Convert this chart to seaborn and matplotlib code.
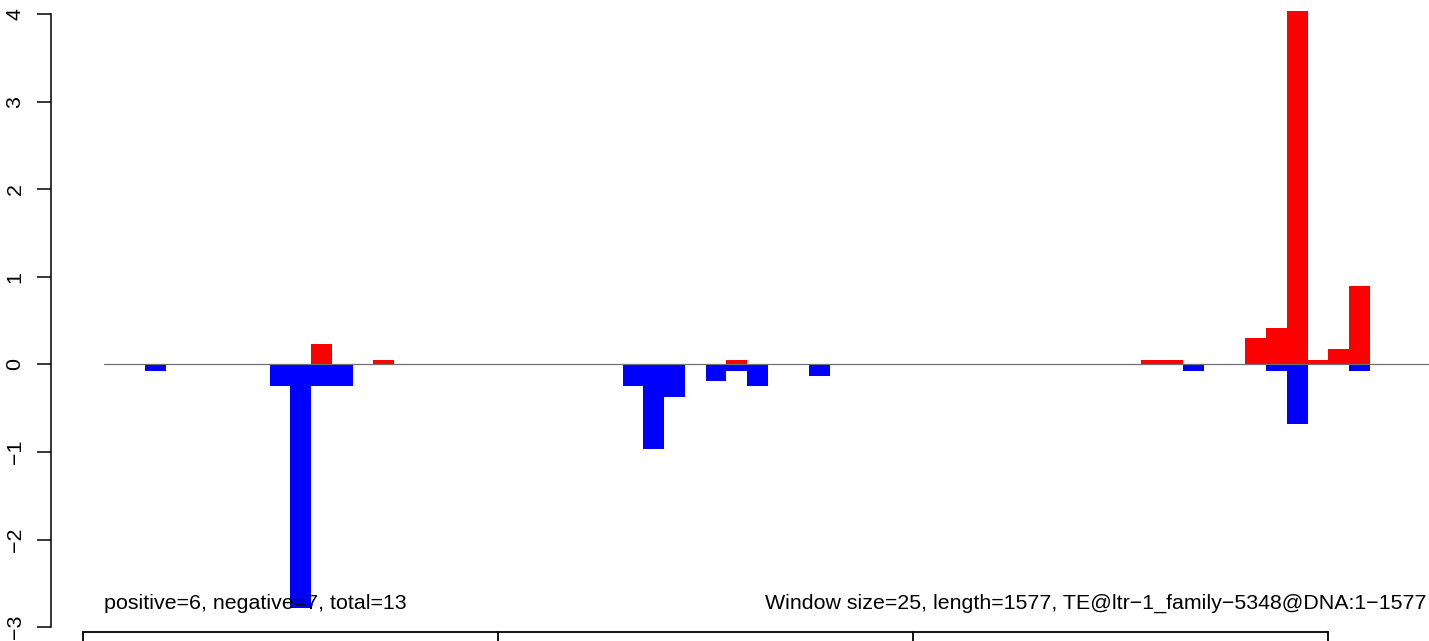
import numpy as np
import pandas as pd
import matplotlib
matplotlib.use("Agg")
import matplotlib.pyplot as plt
import seaborn as sns

# Window scores (window size 25, length 1577 -> 64 windows)
n_windows = 64
pos_bins = [10, 13, 30, 50, 51, 55, 56, 57, 58, 59, 60]
pos_vals = [0.236, 0.055, 0.055, 0.055, 0.055, 0.297, 0.42, 4.04, 0.055, 0.18, 0.90]
neg_bins = [2, 8, 9, 10, 11, 25, 26, 27, 29, 30, 31, 34, 52, 56, 57, 60]
neg_vals = [-0.07, -0.25, -2.78, -0.25, -0.25, -0.25, -0.97, -0.37, -0.19,
            -0.07, -0.25, -0.13, -0.07, -0.07, -0.68, -0.07]

# Segments of the annotation track drawn under the plot (in window units)
track_edges = [-1, 19, 39, 59]

y_ticks = [-3, -2, -1, 0, 1, 2, 3, 4]
left_note = "positive=6, negative=7, total=13"
right_note = "Window size=25, length=1577, TE@ltr\u22121_family\u22125348@DNA:1\u22121577"

# Full-length table of windows
df = pd.DataFrame({"window": np.arange(n_windows) + 0.5,
                   "pos": 0.0, "neg": 0.0})
df.loc[pos_bins, "pos"] = pos_vals
df.loc[neg_bins, "neg"] = neg_vals

sns.set_style("white")
plt.rcParams['font.family'] = ['Liberation Sans', 'DejaVu Sans']
plt.rcParams['text.color'] = 'black'
plt.rcParams['ytick.color'] = 'black'
plt.rcParams['ytick.labelcolor'] = 'black'

fig = plt.figure(figsize=(14.29, 6.41), dpi=100)
ax = fig.add_axes([51 / 1429, 0, (1429 - 51) / 1429, 1])

sns.barplot(data=df, x="window", y="neg", native_scale=True, width=1,
            color="#0000ff", saturation=1, linewidth=0, errorbar=None, ax=ax)
sns.barplot(data=df, x="window", y="pos", native_scale=True, width=1,
            color="#ff0000", saturation=1, linewidth=0, errorbar=None, ax=ax)

# zero line
ax.plot([0, n_windows], [0, 0], color="#707070", lw=0.9, zorder=3)

# annotation track at the bottom
track_y = -3.055
ax.plot([track_edges[0], track_edges[-1]], [track_y, track_y], color="black", lw=1.3)
for e in track_edges:
    ax.plot([e, e], [track_y, -3.4], color="black", lw=1.3)

fs = 15.4
ax.text(0, -2.79, left_note, ha="left", va="baseline", fontsize=fs, color="black")
ax.text(63.75, -2.79, right_note, ha="right", va="baseline", fontsize=fs, color="black")

ax.set_xlim(-2.53, 63.85)
ax.set_ylim(-3.158, 4.163)
ax.set_xlabel("")
ax.set_ylabel("")
ax.set_xticks([])
ax.set_yticks(y_ticks)
ax.set_yticklabels([str(t).replace("-", "\u2212") for t in y_ticks],
                   rotation=90, va="center", fontsize=fs, color="black")
ax.tick_params(axis="y", direction="out", length=10, width=1.1, pad=9,
               left=True, color="black")
for s in ["top", "right", "bottom"]:
    ax.spines[s].set_visible(False)
ax.spines["left"].set_bounds(-3, 4)
ax.spines["left"].set_linewidth(1.1)
ax.spines["left"].set_color("black")
ax.grid(False)

fig.savefig("out.png", dpi=100)
